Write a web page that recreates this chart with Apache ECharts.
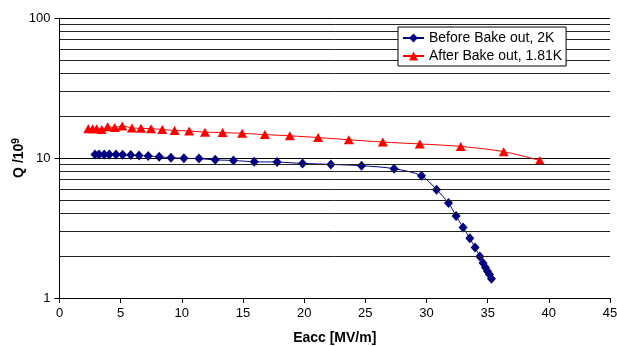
<!DOCTYPE html>
<html><head><meta charset="utf-8">
<script src="https://cdn.jsdelivr.net/npm/echarts@6/dist/echarts.min.js"></script>
<style>html,body{margin:0;padding:0;background:#fff}#c{width:617px;height:347px}</style>
</head><body><div id="c"></div>
<script>
const beforeName = 'Before Bake out, 2K';
const afterName = 'After Bake out, 1.81K';
const beforeE = [2.9,3.23,3.66,4.07,4.62,5.16,5.82,6.5,7.25,8.15,9.11,10.17,11.4,12.73,14.22,15.92,17.79,19.87,22.18,24.69,27.35,29.59,30.82,31.8,32.42,32.99,33.54,33.97,34.36,34.62,34.82,34.98,35.15,35.31];
const beforeQ = [10.6,10.6,10.6,10.6,10.6,10.55,10.5,10.4,10.35,10.2,10.05,9.95,9.9,9.7,9.6,9.4,9.35,9.15,9.0,8.81,8.39,7.47,5.94,4.77,3.85,3.19,2.67,2.29,1.98,1.78,1.65,1.55,1.47,1.37];
const afterE = [2.35,2.71,3.04,3.45,3.94,4.51,5.13,5.92,6.66,7.48,8.4,9.41,10.6,11.89,13.33,14.93,16.79,18.83,21.14,23.65,26.43,29.45,32.8,36.31,39.26];
const afterQ = [16.2,16.2,16.2,16.0,16.7,16.5,16.9,16.4,16.3,16.2,16.0,15.7,15.6,15.3,15.2,15.0,14.7,14.4,14.0,13.5,13.0,12.6,12.1,11.1,9.6];
const minorGrid = [2,3,4,5,6,7,8,9,20,30,40,50,60,70,80,90];
const xTicks = {min:0, max:45, interval:5};

const chart = echarts.init(document.getElementById('c'));
const font = 'Liberation Sans, Arial, sans-serif';
chart.setOption({
  animation:false,
  textStyle:{fontFamily:font},
  grid:{left:59.5, right:7, top:18, bottom:49, containLabel:false, outerBoundsMode:'none'},
  legend:{
    data:[beforeName, afterName], z:20,
    orient:'vertical', left:398, top:27,
    padding:[4,4,3,4], itemGap:4, itemWidth:21, itemHeight:11,
    borderColor:'#000', borderWidth:1, backgroundColor:'#fff',
    textStyle:{fontFamily:font, fontSize:14, color:'#000'}
  },
  xAxis:{
    type:'value', min:xTicks.min, max:xTicks.max, interval:xTicks.interval,
    name:'Eacc [MV/m]', nameLocation:'middle', nameGap:33, nameMoveOverlap:false,
    nameTextStyle:{fontFamily:font, fontSize:14, fontWeight:'bold', color:'#000'},
    axisLine:{onZero:false, lineStyle:{color:'#000', width:1}},
    axisTick:{show:true, length:5, lineStyle:{color:'#000'}},
    axisLabel:{fontFamily:font, fontSize:13, color:'#000', margin:9},
    splitLine:{show:false}
  },
  yAxis:{
    type:'log', logBase:10, min:1, max:100,
    name:'{a|Q /10}{s|9}', nameLocation:'middle', nameGap:32, nameMoveOverlap:false,
    nameTextStyle:{rich:{
      a:{fontFamily:font, fontSize:14, fontWeight:'bold', color:'#000'},
      s:{fontFamily:font, fontSize:10, fontWeight:'bold', color:'#000', verticalAlign:'top', padding:[0,0,6,0]}
    }},
    axisLine:{show:true, lineStyle:{color:'#000', width:1}},
    axisTick:{show:true, length:5, lineStyle:{color:'#000'}},
    axisLabel:{fontFamily:font, fontSize:13, color:'#000', margin:9},
    splitLine:{show:true, lineStyle:{color:'#000', width:1}}
  },
  series:[
    {
      name:'grid', type:'line', data:[], z:1, silent:true,
      markLine:{silent:true, symbol:['none','none'], label:{show:false},
        lineStyle:{color:'#222', width:1, type:'solid'},
        data:minorGrid.map(v=>({yAxis:v}))}
    },
    {
      name:beforeName, type:'line', z:3,
      data:beforeE.map((e,i)=>[e, beforeQ[i]]),
      smooth:0.3, symbol:'diamond', symbolSize:[9,10],
      lineStyle:{color:'#000080', width:1},
      itemStyle:{color:'#000080'}
    },
    {
      name:afterName, type:'line', z:3,
      data:afterE.map((e,i)=>[e, afterQ[i]]),
      smooth:0.3, symbol:'triangle', symbolSize:[10,9],
      lineStyle:{color:'#ff0000', width:1},
      itemStyle:{color:'#ff0000'}
    }
  ]
});
</script></body></html>
